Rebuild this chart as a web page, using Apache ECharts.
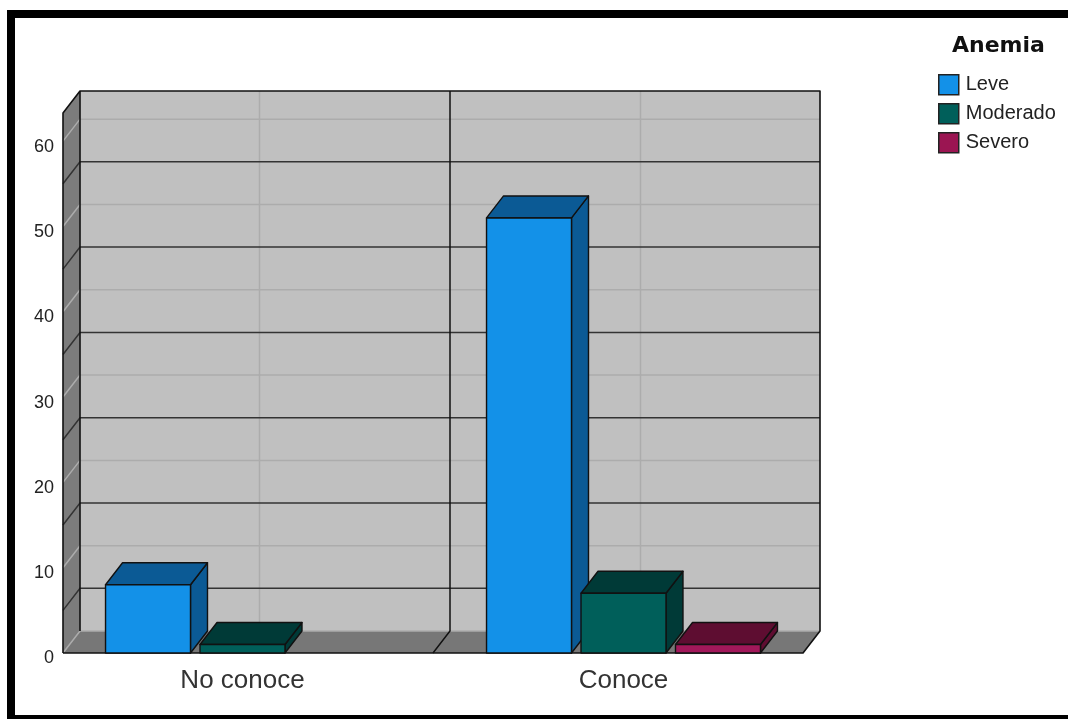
<!DOCTYPE html>
<html>
<head>
<meta charset="utf-8">
<script src="https://cdn.jsdelivr.net/npm/echarts@6/dist/echarts.min.js"></script>
<style>
  html, body { margin: 0; padding: 0; background: #ffffff; }
  #chart { width: 1068px; height: 719px; }
</style>
</head>
<body>
<div id="chart"></div>
<script>
// Counts per knowledge group, split by anemia level
const categories = ['No conoce', 'Conoce'];
const leve = [8, 51];
const moderado = [1, 7];
const severo = [0, 1];
const seriesNames = ['Leve', 'Moderado', 'Severo'];
const legendTitle = 'Anemia';

// Value axis ticks and the wall lines drawn between them
const yTicks = [0, 10, 20, 30, 40, 50, 60];
const yMidLines = [5, 15, 25, 35, 45, 55];
const yMax = 63.3;

// Styling
const faceColors = ['#1391e8', '#005f5a', '#a2185a'];
const shadeColors = ['#0b5a95', '#003a37', '#5e0d31'];
const legendColors = ['#1391e8', '#005f5a', '#9b1552'];
const DX = 17, DY = -22;      // depth of the 3D box
const INSET = 11;             // floor inset inside the category band
const EDGE = '#111111';
const LIGHT_LINE = '#acacac';
const DARK_LINE = '#333333';

const chart = echarts.init(document.getElementById('chart'), null, { renderer: 'canvas' });

function frameRenderer(params, api) {
  const cs = params.coordSys;
  const fx0 = cs.x + INSET;
  const fx1 = cs.x + cs.width - INSET;
  const fy0 = api.coord([0, 0])[1];
  const fyTop = api.coord([0, yMax])[1];
  const kids = [];

  // back wall
  kids.push({ type: 'rect', shape: { x: fx0 + DX, y: fyTop + DY, width: fx1 - fx0, height: fy0 - fyTop },
    style: { fill: '#c0c0c0' } });
  // left wall
  kids.push({ type: 'polygon', shape: { points: [[fx0, fyTop], [fx0 + DX, fyTop + DY], [fx0 + DX, fy0 + DY], [fx0, fy0]] },
    style: { fill: '#7c7c7c' } });
  // floor
  kids.push({ type: 'polygon', shape: { points: [[fx0, fy0], [fx0 + DX, fy0 + DY], [fx1 + DX, fy0 + DY], [fx1, fy0]] },
    style: { fill: '#777777' } });

  // category centre lines on the back wall
  categories.forEach(function (c, i) {
    const x = api.coord([i, 0])[0] + DX;
    kids.push({ type: 'line', shape: { x1: x, y1: fyTop + DY, x2: x, y2: fy0 + DY },
      style: { stroke: LIGHT_LINE, lineWidth: 1.5 } });
  });

  // lines at the labelled values
  yTicks.forEach(function (v) {
    const y = api.coord([0, v])[1];
    kids.push({ type: 'polyline', shape: { points: [[fx0, y], [fx0 + DX, y + DY], [fx1 + DX, y + DY]] },
      style: { stroke: LIGHT_LINE, lineWidth: 1.5, fill: null } });
  });
  // lines halfway between labelled values
  yMidLines.forEach(function (v) {
    const y = api.coord([0, v])[1];
    kids.push({ type: 'polyline', shape: { points: [[fx0, y], [fx0 + DX, y + DY], [fx1 + DX, y + DY]] },
      style: { stroke: DARK_LINE, lineWidth: 1.5, fill: null } });
  });

  // divider between categories: back wall and floor
  for (let i = 1; i < categories.length; i++) {
    const x = (api.coord([i - 1, 0])[0] + api.coord([i, 0])[0]) / 2;
    kids.push({ type: 'polyline', shape: { points: [[x, fy0], [x + DX, fy0 + DY], [x + DX, fyTop + DY]] },
      style: { stroke: EDGE, lineWidth: 1.5, fill: null } });
  }

  // outline of the box
  kids.push({ type: 'polyline', shape: { points: [[fx0, fy0], [fx0, fyTop], [fx0 + DX, fyTop + DY], [fx1 + DX, fyTop + DY], [fx1 + DX, fy0 + DY], [fx1, fy0], [fx0, fy0]] },
    style: { stroke: EDGE, lineWidth: 1.6, fill: null, lineJoin: 'round' } });
  kids.push({ type: 'line', shape: { x1: fx0 + DX, y1: fyTop + DY, x2: fx0 + DX, y2: fy0 + DY },
    style: { stroke: EDGE, lineWidth: 1.6 } });

  return { type: 'group', children: kids };
}

function barRenderer(sIdx) {
  return function (params, api) {
    const cat = api.value(0);
    const val = api.value(1);
    if (!val) return null;
    const band = api.size([1, 0])[0];
    const base = api.coord([cat, 0]);
    const top = api.coord([cat, val]);
    const w = band * 0.223;
    const gap = band * 0.025;
    const x0 = base[0] - 1.5 * w - gap + sIdx * (w + gap);
    const x1 = x0 + w;
    const y0 = base[1];
    const y1 = top[1];
    const ln = { stroke: EDGE, lineWidth: 1.4, lineJoin: 'round' };
    return {
      type: 'group',
      children: [
        { type: 'polygon', shape: { points: [[x1, y1], [x1 + DX, y1 + DY], [x1 + DX, y0 + DY], [x1, y0]] },
          style: Object.assign({ fill: shadeColors[sIdx] }, ln) },
        { type: 'polygon', shape: { points: [[x0, y1], [x0 + DX, y1 + DY], [x1 + DX, y1 + DY], [x1, y1]] },
          style: Object.assign({ fill: shadeColors[sIdx] }, ln) },
        { type: 'rect', shape: { x: x0, y: y1, width: w, height: y0 - y1 },
          style: Object.assign({ fill: faceColors[sIdx] }, ln) }
      ]
    };
  };
}

const seriesData = [leve, moderado, severo];

const option = {
  animation: false,
  backgroundColor: '#ffffff',
  title: {
    text: legendTitle,
    left: 952,
    top: 35,
    padding: 0,
    textStyle: { fontFamily: 'DejaVu Sans', fontWeight: 'bold', fontSize: 22, color: '#111111' }
  },
  legend: {
    orient: 'vertical',
    left: 938,
    top: 74,
    padding: 0,
    icon: 'rect',
    itemWidth: 20,
    itemHeight: 20,
    itemGap: 7.5,
    selectedMode: false,
    textStyle: { fontFamily: 'Liberation Sans', fontSize: 20, color: '#222222', padding: [0, 0, 0, 2] },
    data: seriesNames.map(function (n, i) {
      return { name: n, itemStyle: { color: legendColors[i], borderColor: '#222222', borderWidth: 1.5 } };
    })
  },
  grid: { left: 52, width: 762, top: 113, height: 540 },
  xAxis: {
    type: 'category',
    data: categories,
    axisLine: { show: false },
    axisTick: { show: false },
    splitLine: { show: false },
    axisLabel: { fontFamily: 'Liberation Sans', fontSize: 26, color: '#333333', margin: 15 }
  },
  yAxis: {
    type: 'value',
    min: 0,
    max: yMax,
    interval: 10,
    offset: -10,
    axisLine: { show: false },
    axisTick: { show: false },
    splitLine: { show: false },
    axisLabel: {
      fontFamily: 'Liberation Sans', fontSize: 18, color: '#222222', margin: 8,
      showMaxLabel: false,
      formatter: '{v|{value}}',
      rich: { v: { fontFamily: 'Liberation Sans', fontSize: 18, color: '#222222', padding: [11, 0, 0, 0] } }
    }
  },
  graphic: [{
    type: 'rect',
    shape: { x: 11, y: 14, width: 1100, height: 705 },
    style: { fill: null, stroke: '#000000', lineWidth: 8 },
    z: 100
  }],
  series: [
    {
      type: 'custom',
      name: 'frame',
      z: 1,
      silent: true,
      renderItem: frameRenderer,
      data: [[0, 0]]
    }
  ].concat(seriesNames.map(function (n, i) {
    return {
      type: 'custom',
      name: n,
      z: 2 + i,
      itemStyle: { color: legendColors[i] },
      renderItem: barRenderer(i),
      encode: { x: 0, y: 1 },
      data: seriesData[i].map(function (v, k) { return [k, v]; })
    };
  }))
};

chart.setOption(option);
</script>
</body>
</html>
